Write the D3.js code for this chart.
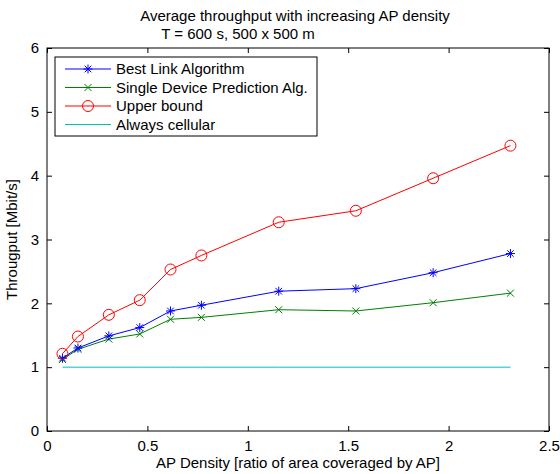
<!DOCTYPE html>
<html><head><meta charset="utf-8">
<script src="https://cdn.jsdelivr.net/npm/d3@7"></script>
<style>body{margin:0;background:#fff}text{font-family:"Liberation Sans",Arial,sans-serif;}</style>
</head><body><svg id="c" width="560" height="474"></svg>
<script>
const apDensity = [0.077, 0.154, 0.308, 0.462, 0.615, 0.769, 1.154, 1.538, 1.923, 2.308];
const bestLink = [1.14, 1.30, 1.49, 1.62, 1.88, 1.97, 2.19, 2.23, 2.48, 2.78];
const singleDevice = [1.12, 1.28, 1.44, 1.52, 1.75, 1.78, 1.90, 1.88, 2.01, 2.16];
const upperBound = [1.21, 1.48, 1.82, 2.05, 2.53, 2.75, 3.27, 3.45, 3.96, 4.47];
const alwaysCellular = [1, 1, 1, 1, 1, 1, 1, 1, 1, 1];
const xTicks = [0, 0.5, 1, 1.5, 2, 2.5];
const yTicks = [0, 1, 2, 3, 4, 5, 6];
const seriesNames = ["Best Link Algorithm", "Single Device Prediction Alg.", "Upper bound", "Always cellular"];

const svg = d3.select("#c");
const L = 47, R = 549, T = 48, B = 431;
const x = d3.scaleLinear().domain([0, 2.5]).range([L, R]);
const y = d3.scaleLinear().domain([0, 6]).range([B, T]);

const series = [
  {name: seriesNames[0], vals: bestLink, color: "#0000ff", marker: "star"},
  {name: seriesNames[1], vals: singleDevice, color: "#008000", marker: "x"},
  {name: seriesNames[2], vals: upperBound, color: "#ff0000", marker: "circle"},
  {name: seriesNames[3], vals: alwaysCellular, color: "#00bfbf", marker: null}
];

const fs = 15;
const gx = svg.append("g").attr("transform", `translate(0,${B})`)
  .call(d3.axisBottom(x).tickValues(xTicks).tickFormat(d3.format("")).tickSizeInner(-5).tickSizeOuter(0).tickPadding(9));
const gxt = svg.append("g").attr("transform", `translate(0,${T})`)
  .call(d3.axisTop(x).tickValues(xTicks).tickFormat("").tickSizeInner(-5).tickSizeOuter(0));
const gy = svg.append("g").attr("transform", `translate(${L},0)`)
  .call(d3.axisLeft(y).tickValues(yTicks).tickFormat(d3.format("")).tickSizeInner(-5).tickSizeOuter(0).tickPadding(8));
const gyr = svg.append("g").attr("transform", `translate(${R},0)`)
  .call(d3.axisRight(y).tickValues(yTicks).tickFormat("").tickSizeInner(-5).tickSizeOuter(0));
[gx, gxt, gy, gyr].forEach(g => {
  g.selectAll("path").remove();
  g.selectAll("line").attr("stroke", "#000");
  g.selectAll("text").attr("font-size", fs).attr("fill", "#000").style("font-family", '"Liberation Sans",Arial,sans-serif');
});
svg.append("rect").attr("x", L).attr("y", T).attr("width", R - L).attr("height", B - T)
  .attr("fill", "none").attr("stroke", "#000").attr("stroke-width", 1);

function drawMarker(g, kind, cx, cy, color) {
  if (kind === "circle") {
    g.append("circle").attr("cx", cx).attr("cy", cy).attr("r", 5.5).attr("fill", "none").attr("stroke", color).attr("stroke-width", 1);
  } else if (kind === "x") {
    const s = 3.5;
    g.append("path").attr("d", `M${cx-s},${cy-s}L${cx+s},${cy+s}M${cx-s},${cy+s}L${cx+s},${cy-s}`).attr("fill", "none").attr("stroke", color).attr("stroke-width", 1);
  } else if (kind === "star") {
    const s = 4.5, d = 3.3;
    g.append("path").attr("d", `M${cx-s},${cy}L${cx+s},${cy}M${cx},${cy-s}L${cx},${cy+s}M${cx-d},${cy-d}L${cx+d},${cy+d}M${cx-d},${cy+d}L${cx+d},${cy-d}`).attr("fill", "none").attr("stroke", color).attr("stroke-width", 1);
  }
}

const lineGen = d3.line().x((d, i) => x(apDensity[i])).y(d => y(d));
[3, 1, 0, 2].forEach(k => {
  const s = series[k];
  const g = svg.append("g");
  g.append("path").attr("d", lineGen(s.vals)).attr("fill", "none").attr("stroke", s.color).attr("stroke-width", 1);
  if (s.marker) s.vals.forEach((v, i) => drawMarker(g, s.marker, x(apDensity[i]), y(v), s.color));
});

// legend
const lg = svg.append("g");
lg.append("rect").attr("x", 55).attr("y", 57).attr("width", 262).attr("height", 79).attr("fill", "#fff").attr("stroke", "#000");
series.forEach((s, i) => {
  const ly = 69 + i * 18.5;
  lg.append("line").attr("x1", 65).attr("x2", 111).attr("y1", ly).attr("y2", ly).attr("stroke", s.color);
  if (s.marker) drawMarker(lg, s.marker, 88, ly, s.color);
  lg.append("text").attr("x", 116).attr("y", ly + 5).attr("font-size", fs).text(s.name);
});

svg.append("text").attr("x", 295).attr("y", 21).attr("text-anchor", "middle").attr("font-size", fs).text("Average throughput with increasing AP density");
svg.append("text").attr("x", 238).attr("y", 39).attr("text-anchor", "middle").attr("font-size", fs).text("T = 600 s, 500 x 500 m");
svg.append("text").attr("x", 298).attr("y", 468).attr("text-anchor", "middle").attr("font-size", fs).text("AP Density [ratio of area coveraged by AP]");
svg.append("text").attr("transform", `translate(17,${(T + B) / 2}) rotate(-90)`).attr("text-anchor", "middle").attr("font-size", fs).text("Througput [Mbit/s]");
</script></body></html>
